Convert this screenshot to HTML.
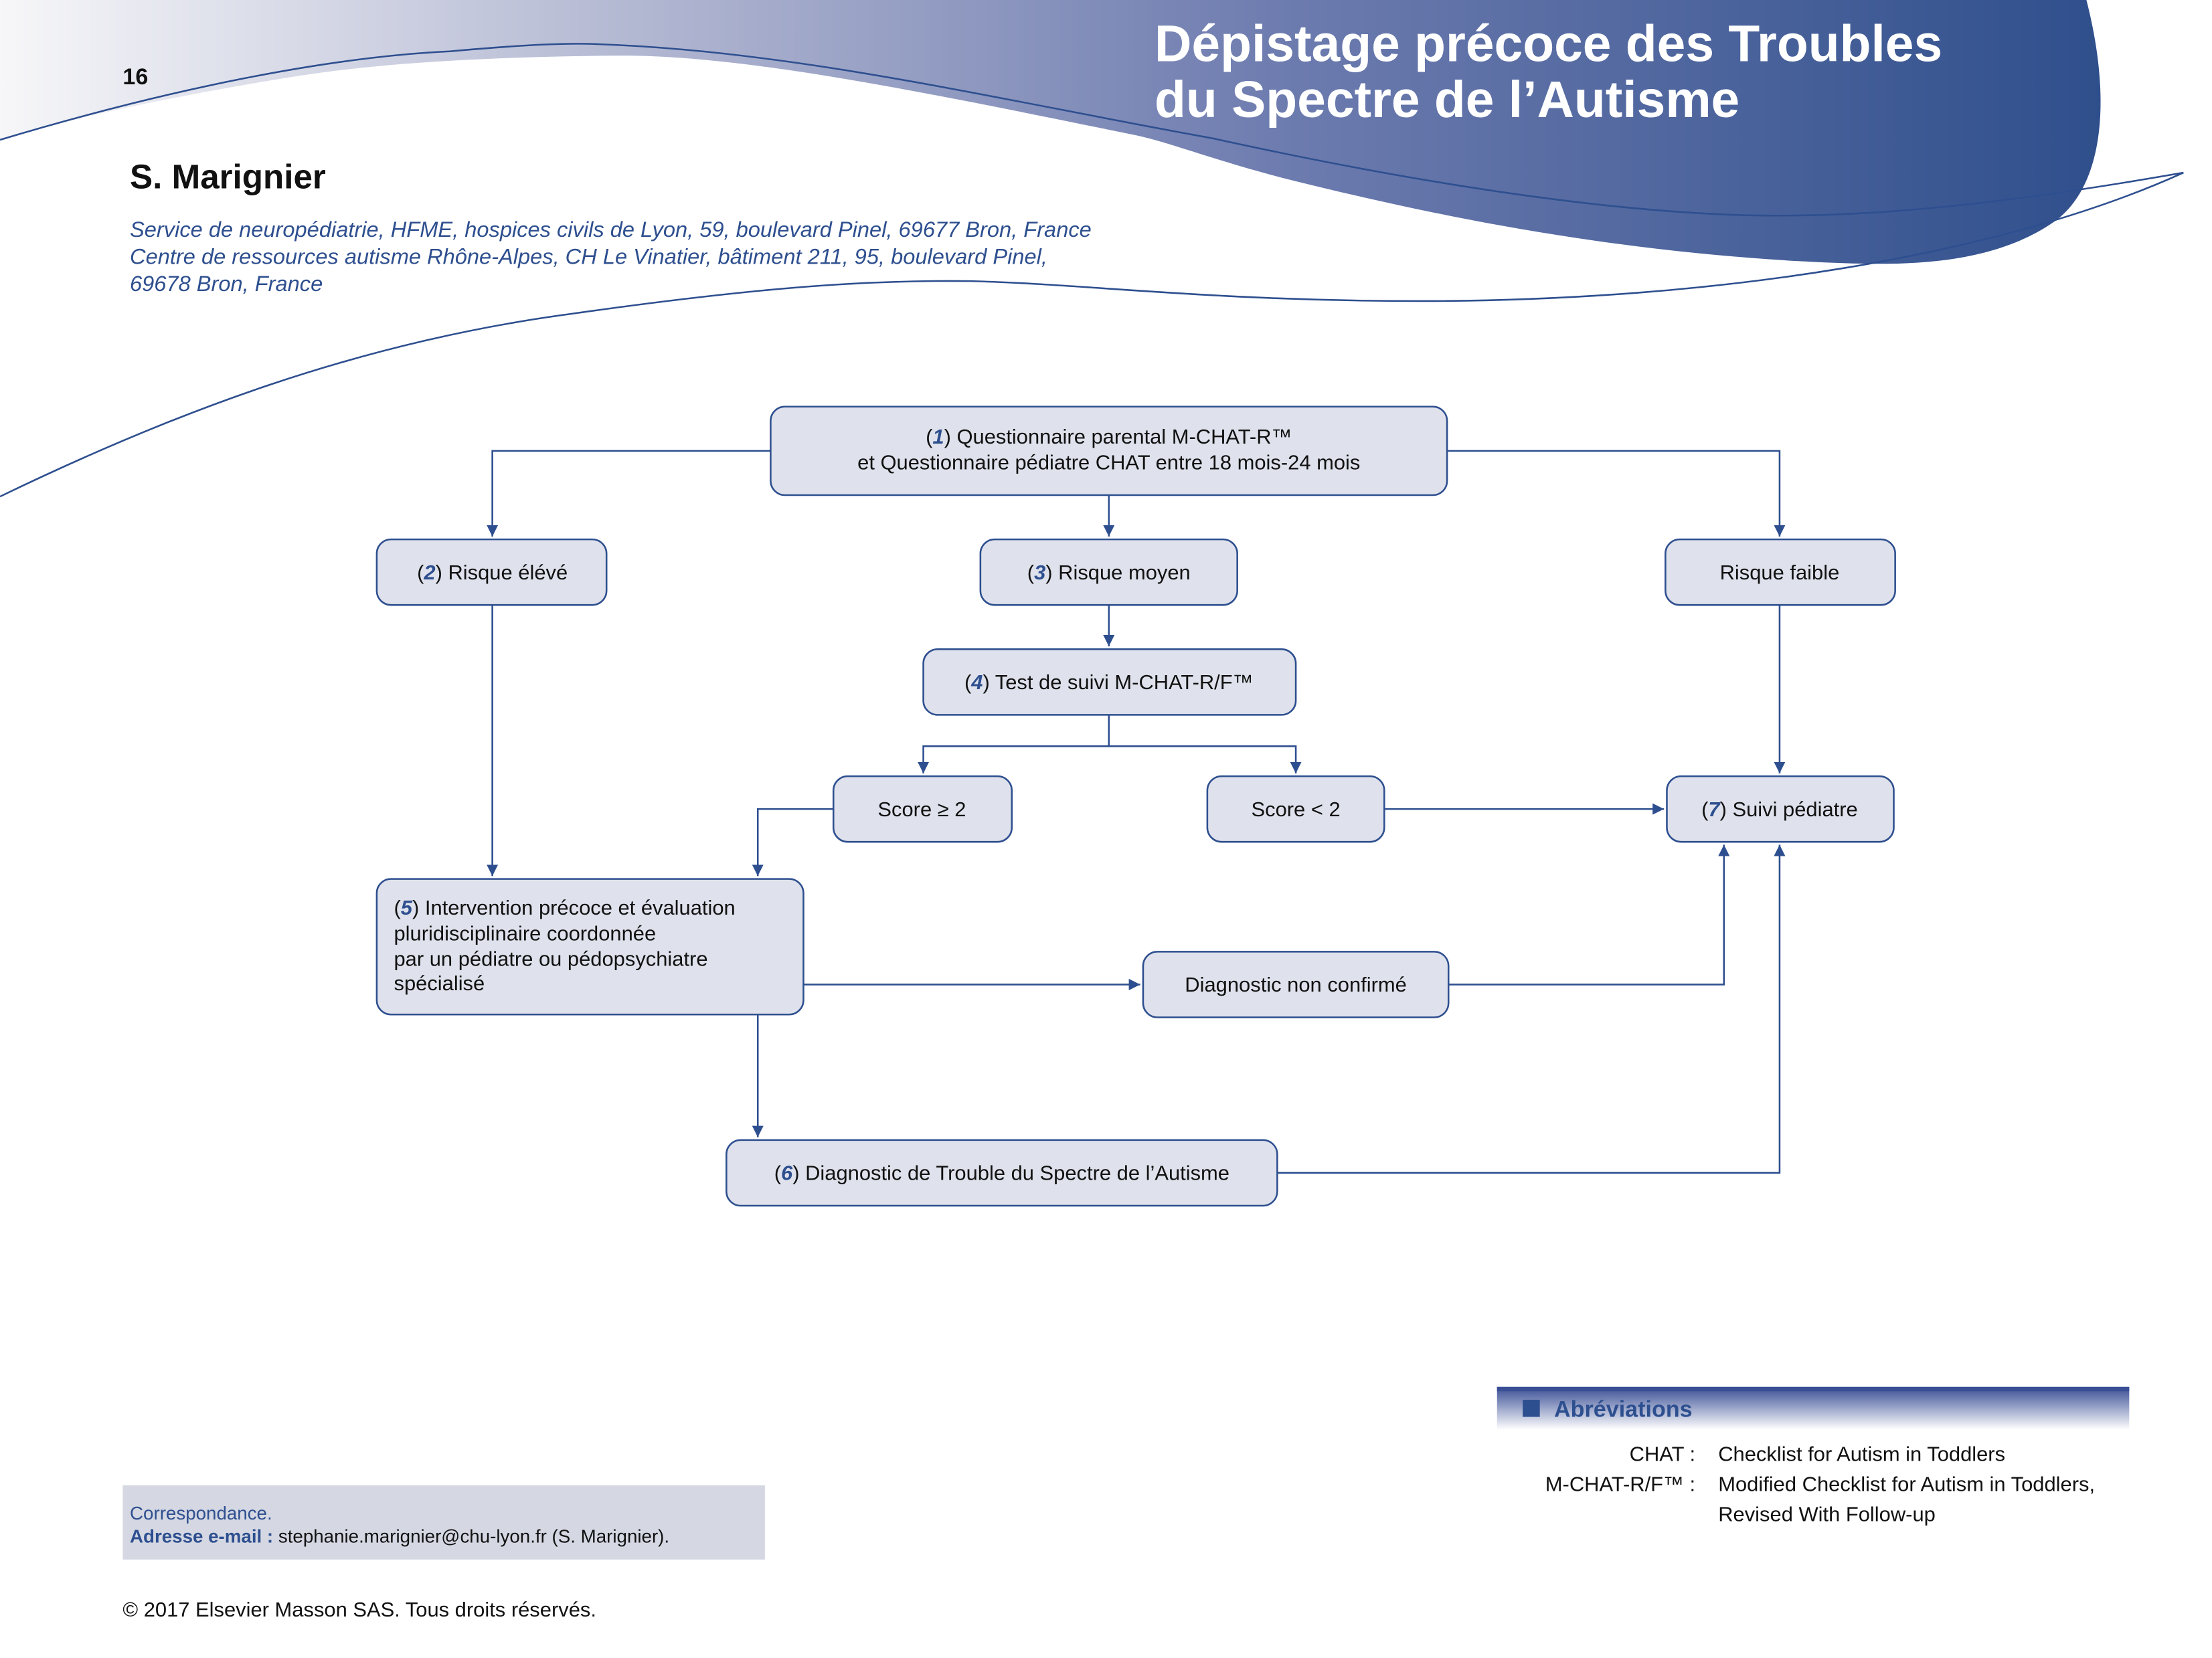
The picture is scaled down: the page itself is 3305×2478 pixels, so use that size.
<!DOCTYPE html>
<html><head><meta charset="utf-8"><style>
html,body{margin:0;padding:0;background:#fff;}
svg{display:block;}
text{font-family:"Liberation Sans",sans-serif;}
</style></head><body>
<svg width="3305" height="2478" viewBox="0 0 1550 1162" preserveAspectRatio="none" xmlns="http://www.w3.org/2000/svg">
<defs>
<linearGradient id="hg" x1="0" y1="0" x2="1" y2="0">
<stop offset="0" stop-color="#f7f7f9"/>
<stop offset="0.3" stop-color="#b3b8d2"/>
<stop offset="0.6" stop-color="#6f7db0"/>
<stop offset="1" stop-color="#2f4f8c"/>
</linearGradient>
<linearGradient id="ag" x1="0" y1="0" x2="0" y2="1">
<stop offset="0" stop-color="#3a4f96"/>
<stop offset="1" stop-color="#ffffff"/>
</linearGradient>
<marker id="ar" markerWidth="10" markerHeight="10" refX="8" refY="4" orient="auto" markerUnits="userSpaceOnUse">
<path d="M0,0 L8,4 L0,8 Z" fill="#2e4f8f"/>
</marker>
</defs>
<!-- header -->
<path d="M0,0 H1462 C1480,70 1474,130 1440,155 C1390,190 1320,186 1260,183 C1120,175 1000,150 900,125 C850,112 820,100 797,95 C650,65 520,38 432,39 C330,40 260,45 204,54 C130,66 60,80 0,98 Z" fill="url(#hg)"/>
<path d="M0,98 C120,62 230,40 315,36 C370,31 400,30 420,31 C560,36 700,70 850,97 C1000,130 1150,153 1260,151 C1350,150 1450,135 1530,121" fill="none" stroke="#2e4f8f" stroke-width="1.2"/>
<path d="M0,348 C120,290 250,240 400,220 C520,203 600,196 680,197 C760,199 850,211 995,211 C1200,211 1400,180 1530,121" fill="none" stroke="#2e4f8f" stroke-width="1.2"/>
<text x="86" y="59" font-size="16" font-weight="bold" fill="#111">16</text>
<text x="809" y="43" font-size="36" font-weight="bold" fill="#fff">Dépistage précoce des Troubles</text>
<text x="809" y="82" font-size="36" font-weight="bold" fill="#fff">du Spectre de l’Autisme</text>
<text x="91" y="132" font-size="24" font-weight="bold" fill="#111">S. Marignier</text>
<g font-size="15.3" font-style="italic" fill="#2e4f8f">
<text x="91" y="166">Service de neuropédiatrie, HFME, hospices civils de Lyon, 59, boulevard Pinel, 69677 Bron, France</text>
<text x="91" y="185">Centre de ressources autisme Rhône-Alpes, CH Le Vinatier, bâtiment 211, 95, boulevard Pinel,</text>
<text x="91" y="204">69678 Bron, France</text>
</g>
<!-- connectors -->
<g fill="none" stroke="#2e4f8f" stroke-width="1.2">
<path d="M540,316 H345 V376" marker-end="url(#ar)"/>
<path d="M1014,316 H1247 V376" marker-end="url(#ar)"/>
<path d="M777,347 V376" marker-end="url(#ar)"/>
<path d="M777,424 V453" marker-end="url(#ar)"/>
<path d="M777,501 V523 H647 V542" marker-end="url(#ar)"/>
<path d="M777,523 H908 V542" marker-end="url(#ar)"/>
<path d="M584,567 H531 V614" marker-end="url(#ar)"/>
<path d="M345,424 V614" marker-end="url(#ar)"/>
<path d="M970,567 H1166" marker-end="url(#ar)"/>
<path d="M1247,424 V542" marker-end="url(#ar)"/>
<path d="M563,690 H799" marker-end="url(#ar)"/>
<path d="M1015,690 H1208 V592" marker-end="url(#ar)"/>
<path d="M531,711 V797" marker-end="url(#ar)"/>
<path d="M895,822 H1247 V592" marker-end="url(#ar)"/>
</g>
<!-- boxes -->
<g fill="#dfe2ec" stroke="#2e4f8f" stroke-width="1.2">
<rect x="540" y="285" width="474" height="62" rx="10"/>
<rect x="264" y="378" width="161" height="46" rx="10"/>
<rect x="687" y="378" width="180" height="46" rx="10"/>
<rect x="1167" y="378" width="161" height="46" rx="10"/>
<rect x="647" y="455" width="261" height="46" rx="10"/>
<rect x="584" y="544" width="125" height="46" rx="10"/>
<rect x="846" y="544" width="124" height="46" rx="10"/>
<rect x="1168" y="544" width="159" height="46" rx="10"/>
<rect x="264" y="616" width="299" height="95" rx="10"/>
<rect x="801" y="667" width="214" height="46" rx="10"/>
<rect x="509" y="799" width="386" height="46" rx="10"/>
</g>
<g font-size="14.5" fill="#111" text-anchor="middle">
<text x="777" y="311">(<tspan fill="#2e4f8f" font-style="italic" font-weight="bold">1</tspan>) Questionnaire parental M-CHAT-R™</text>
<text x="777" y="329">et Questionnaire pédiatre CHAT entre 18 mois-24 mois</text>
<text x="345" y="406">(<tspan fill="#2e4f8f" font-style="italic" font-weight="bold">2</tspan>) Risque élévé</text>
<text x="777" y="406">(<tspan fill="#2e4f8f" font-style="italic" font-weight="bold">3</tspan>) Risque moyen</text>
<text x="1247" y="406">Risque faible</text>
<text x="777" y="483">(<tspan fill="#2e4f8f" font-style="italic" font-weight="bold">4</tspan>) Test de suivi M-CHAT-R/F™</text>
<text x="646" y="572">Score ≥ 2</text>
<text x="908" y="572">Score &lt; 2</text>
<text x="1247" y="572">(<tspan fill="#2e4f8f" font-style="italic" font-weight="bold">7</tspan>) Suivi pédiatre</text>
<text x="908" y="695">Diagnostic non confirmé</text>
<text x="702" y="827">(<tspan fill="#2e4f8f" font-style="italic" font-weight="bold">6</tspan>) Diagnostic de Trouble du Spectre de l’Autisme</text>
</g>
<g font-size="14.5" fill="#111">
<text x="276" y="641">(<tspan fill="#2e4f8f" font-style="italic" font-weight="bold">5</tspan>) Intervention précoce et évaluation</text>
<text x="276" y="659">pluridisciplinaire coordonnée</text>
<text x="276" y="677">par un pédiatre ou pédopsychiatre</text>
<text x="276" y="694">spécialisé</text>
</g>
<!-- abbreviations -->
<rect x="1049" y="972" width="443" height="30" fill="url(#ag)"/>
<rect x="1049" y="972" width="443" height="3" fill="#3a4f96"/>
<rect x="1067" y="981" width="12" height="12" fill="#2e4f8f"/>
<text x="1089" y="993" font-size="16" font-weight="bold" fill="#2e4f8f">Abréviations</text>
<g font-size="14.5" fill="#111">
<text x="1188" y="1024" text-anchor="end">CHAT :</text>
<text x="1188" y="1045" text-anchor="end">M-CHAT-R/F™ :</text>
<text x="1204" y="1024">Checklist for Autism in Toddlers</text>
<text x="1204" y="1045">Modified Checklist for Autism in Toddlers,</text>
<text x="1204" y="1066">Revised With Follow-up</text>
</g>
<!-- correspondance -->
<rect x="86" y="1041" width="450" height="52" fill="#d5d8e3"/>
<text x="91" y="1065" font-size="13" fill="#2e4f8f">Correspondance.</text>
<text x="91" y="1081" font-size="13" fill="#111"><tspan fill="#2e4f8f" font-weight="bold">Adresse e-mail :</tspan> stephanie.marignier@chu-lyon.fr (S. Marignier).</text>
<text x="86" y="1133" font-size="14.5" fill="#111">© 2017 Elsevier Masson SAS. Tous droits réservés.</text>
</svg>
</body></html>
